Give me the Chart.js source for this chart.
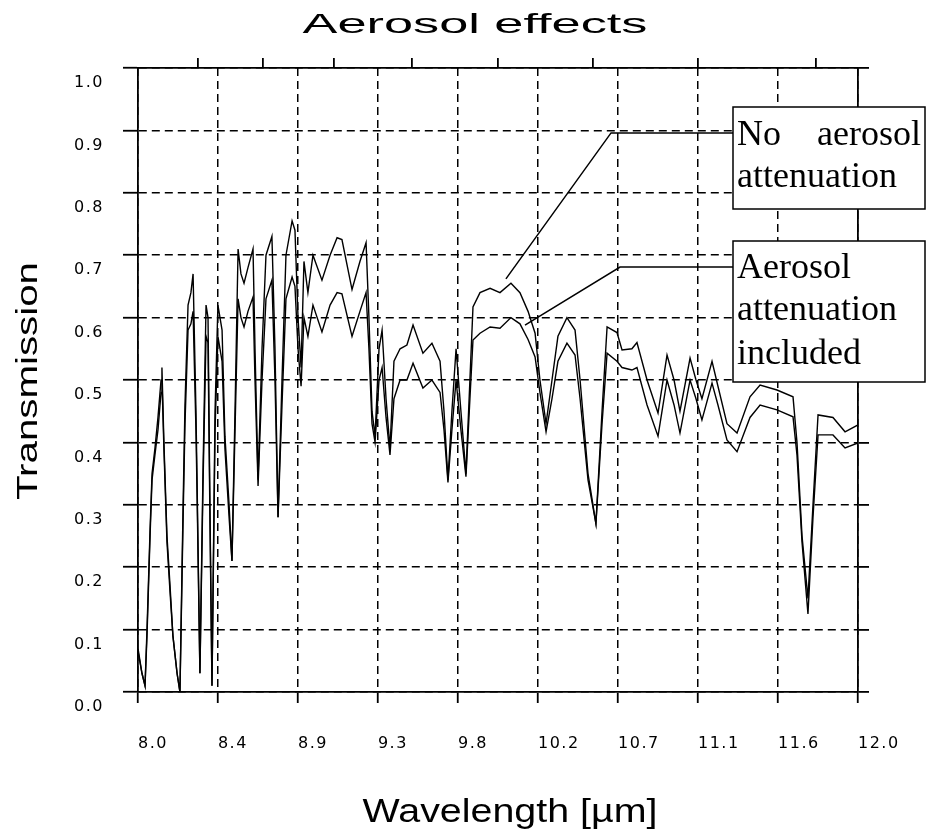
<!DOCTYPE html>
<html>
<head>
<meta charset="utf-8">
<script src="https://cdn.jsdelivr.net/npm/chart.js@4.4.1/dist/chart.umd.min.js"></script>
<style>
  body { margin: 0; background: #fff; }
  canvas { display: block; }
</style>
</head>
<body>
<canvas id="myChart" width="926" height="830"></canvas>
<script>
// wavelength in micrometres, shared by both curves
var wavelength = [8.000, 8.022, 8.039, 8.050, 8.067, 8.078, 8.094, 8.111, 8.128, 8.133, 8.144, 8.161, 8.178, 8.194, 8.217, 8.233, 8.250, 8.261, 8.278, 8.294, 8.306, 8.322, 8.328, 8.344, 8.361, 8.378, 8.389, 8.400, 8.411, 8.428, 8.444, 8.467, 8.483, 8.506, 8.522, 8.539, 8.556, 8.572, 8.589, 8.611, 8.639, 8.650, 8.667, 8.689, 8.711, 8.744, 8.761, 8.778, 8.800, 8.822, 8.856, 8.872, 8.889, 8.906, 8.922, 8.944, 8.972, 9.022, 9.067, 9.106, 9.133, 9.189, 9.233, 9.267, 9.283, 9.300, 9.317, 9.339, 9.356, 9.378, 9.400, 9.422, 9.456, 9.494, 9.528, 9.583, 9.633, 9.678, 9.700, 9.722, 9.744, 9.767, 9.794, 9.822, 9.844, 9.861, 9.900, 9.956, 10.011, 10.072, 10.122, 10.167, 10.206, 10.233, 10.267, 10.300, 10.333, 10.383, 10.428, 10.456, 10.500, 10.544, 10.578, 10.606, 10.661, 10.689, 10.744, 10.772, 10.828, 10.889, 10.939, 10.978, 11.011, 11.067, 11.100, 11.133, 11.189, 11.222, 11.272, 11.328, 11.400, 11.456, 11.550, 11.639, 11.661, 11.689, 11.722, 11.750, 11.778, 11.861, 11.928, 12.000];

var noAerosol = [0.07, 0.03, 0.01, 0.10, 0.26, 0.35, 0.39, 0.44, 0.50, 0.52, 0.40, 0.25, 0.17, 0.09, 0.03, 0.00, 0.29, 0.46, 0.62, 0.64, 0.67, 0.45, 0.34, 0.03, 0.35, 0.62, 0.60, 0.29, 0.01, 0.45, 0.62, 0.58, 0.41, 0.30, 0.21, 0.45, 0.71, 0.67, 0.655, 0.68, 0.71, 0.55, 0.34, 0.55, 0.70, 0.73, 0.55, 0.28, 0.50, 0.70, 0.755, 0.74, 0.60, 0.52, 0.69, 0.64, 0.70, 0.66, 0.70, 0.728, 0.725, 0.645, 0.69, 0.72, 0.60, 0.45, 0.41, 0.55, 0.58, 0.47, 0.39, 0.53, 0.55, 0.556, 0.588, 0.543, 0.559, 0.53, 0.45, 0.34, 0.45, 0.55, 0.45, 0.35, 0.50, 0.617, 0.64, 0.647, 0.64, 0.655, 0.64, 0.61, 0.575, 0.50, 0.43, 0.50, 0.57, 0.60, 0.58, 0.50, 0.35, 0.27, 0.45, 0.585, 0.576, 0.548, 0.55, 0.56, 0.50, 0.447, 0.54, 0.50, 0.45, 0.535, 0.50, 0.47, 0.53, 0.49, 0.43, 0.415, 0.473, 0.492, 0.484, 0.473, 0.40, 0.25, 0.15, 0.30, 0.444, 0.44, 0.417, 0.428];

var withAerosol = [0.065, 0.03, 0.01, 0.09, 0.25, 0.34, 0.38, 0.42, 0.48, 0.50, 0.39, 0.24, 0.16, 0.09, 0.03, 0.00, 0.27, 0.43, 0.58, 0.59, 0.61, 0.42, 0.32, 0.03, 0.33, 0.57, 0.56, 0.27, 0.01, 0.42, 0.57, 0.53, 0.39, 0.28, 0.21, 0.42, 0.63, 0.60, 0.585, 0.61, 0.633, 0.50, 0.33, 0.50, 0.63, 0.66, 0.50, 0.28, 0.46, 0.63, 0.665, 0.65, 0.55, 0.49, 0.60, 0.57, 0.62, 0.577, 0.62, 0.64, 0.638, 0.57, 0.61, 0.64, 0.55, 0.43, 0.40, 0.50, 0.52, 0.44, 0.38, 0.47, 0.50, 0.50, 0.527, 0.487, 0.50, 0.48, 0.42, 0.336, 0.42, 0.50, 0.42, 0.345, 0.47, 0.564, 0.575, 0.585, 0.583, 0.60, 0.59, 0.565, 0.537, 0.48, 0.417, 0.47, 0.53, 0.559, 0.54, 0.47, 0.34, 0.27, 0.43, 0.543, 0.53, 0.52, 0.516, 0.52, 0.46, 0.41, 0.50, 0.46, 0.415, 0.50, 0.47, 0.436, 0.495, 0.46, 0.404, 0.385, 0.44, 0.46, 0.452, 0.441, 0.38, 0.24, 0.125, 0.28, 0.412, 0.412, 0.391, 0.399];

var xTickValues = [8.0, 8.444, 8.889, 9.333, 9.778, 10.222, 10.667, 11.111, 11.556, 12.0];
var xTickLabels = ["8.0", "8.4", "8.9", "9.3", "9.8", "10.2", "10.7", "11.1", "11.6", "12.0"];
// unlabelled ticks on the top edge (wavenumber, cm-1)
var wavenumberTicks = [1200, 1150, 1100, 1050, 1000, 950, 900, 850];

// leader lines from the curves to the boxes, in data units
var leaderNoAerosol = [[10.044, 0.662], [10.628, 0.896], [11.306, 0.896]];
var leaderAerosol = [[10.15, 0.588], [10.678, 0.681], [11.306, 0.681]];

function makePoints(ys) {
  return wavelength.map(function(x, i) { return { x: x, y: ys[i] }; });
}

function stretchText(ctx, text, x, y, font, width, rot) {
  ctx.save();
  ctx.font = font;
  ctx.letterSpacing = "0px";
  ctx.translate(x, y);
  if (rot) ctx.rotate(rot);
  var w = ctx.measureText(text).width;
  ctx.scale(width / w, 1);
  ctx.textAlign = "center";
  ctx.textBaseline = "alphabetic";
  ctx.fillStyle = "#000";
  ctx.fillText(text, 0, 0);
  ctx.restore();
}

var tickSpacing = {
  id: "tickSpacing",
  beforeDraw: function(chart) { chart.ctx.letterSpacing = "1.5px"; },
  afterDatasetsDraw: function(chart) { chart.ctx.letterSpacing = "0px"; }
};

var extras = {
  id: "extras",
  afterDraw: function(chart) {
    var ctx = chart.ctx;
    var sx = chart.scales.x, sy = chart.scales.y;

    stretchText(ctx, "Aerosol effects", 475, 33, "28px 'Liberation Sans'", 345);
    stretchText(ctx, "Wavelength [\u00b5m]", 510, 822, "33px 'Liberation Sans'", 295);
    stretchText(ctx, "Transmission", 37, 381, "30px 'Liberation Sans'", 238, -Math.PI / 2);

    ctx.save();
    ctx.strokeStyle = "#000";
    ctx.lineWidth = 1.5;
    [leaderNoAerosol, leaderAerosol].forEach(function(pts) {
      ctx.beginPath();
      pts.forEach(function(p, i) {
        var px = sx.getPixelForValue(p[0]), py = sy.getPixelForValue(p[1]);
        if (i === 0) ctx.moveTo(px, py); else ctx.lineTo(px, py);
      });
      ctx.stroke();
    });

    // label boxes
    ctx.fillStyle = "#fff";
    ctx.fillRect(733, 107, 192, 102);
    ctx.strokeRect(733, 107, 192, 102);
    ctx.fillRect(733, 241, 192, 141);
    ctx.strokeRect(733, 241, 192, 141);

    ctx.fillStyle = "#000";
    ctx.font = "36px 'Liberation Serif'";
    ctx.textBaseline = "alphabetic";
    ctx.textAlign = "left";
    ctx.fillText("No", 737, 145);
    ctx.fillText("attenuation", 737, 187);
    ctx.fillText("Aerosol", 737, 278);
    ctx.fillText("attenuation", 737, 320);
    ctx.fillText("included", 737, 364);
    ctx.textAlign = "right";
    ctx.fillText("aerosol", 921, 145);
    ctx.restore();
  }
};

var tickFont = { family: "DejaVu Sans", size: 16 };

var ctx = document.getElementById("myChart").getContext("2d");
var myChart = new Chart(ctx, {
  type: "line",
  data: {
    datasets: [
      {
        label: "No aerosol attenuation",
        data: makePoints(noAerosol),
        borderColor: "#000",
        borderWidth: 1.4,
        pointRadius: 0,
        tension: 0
      },
      {
        label: "Aerosol attenuation included",
        data: makePoints(withAerosol),
        borderColor: "#000",
        borderWidth: 1.4,
        pointRadius: 0,
        tension: 0
      }
    ]
  },
  options: {
    responsive: false,
    animation: false,
    layout: { padding: 0 },
    plugins: {
      legend: { display: false },
      title: { display: false },
      tooltip: { enabled: false }
    },
    scales: {
      x: {
        type: "linear",
        position: "bottom",
        min: 8,
        max: 12,
        afterBuildTicks: function(scale) {
          scale.ticks = xTickValues.map(function(v) { return { value: v }; });
        },
        afterFit: function(scale) { scale.height = 138; },
        ticks: {
          callback: function(v, i) { return xTickLabels[i]; },
          align: "start",
          autoSkip: false,
          maxRotation: 0,
          padding: 31,
          color: "#000",
          font: tickFont
        },
        grid: { color: "#000", lineWidth: 1.5, tickLength: 11, tickWidth: 1.8, tickBorderDash: [] },
        border: { color: "#000", width: 1.8, dash: [8, 5], z: 1 }
      },
      x2: {
        type: "linear",
        position: "top",
        min: 8,
        max: 12,
        afterBuildTicks: function(scale) {
          scale.ticks = wavenumberTicks.map(function(n) { return { value: 10000 / n }; });
        },
        afterFit: function(scale) { scale.height = 68; },
        ticks: { display: false },
        grid: { drawOnChartArea: false, color: "#000", lineWidth: 1.8, tickLength: 10 },
        border: { color: "#000", width: 1.8, z: 1 }
      },
      y: {
        min: 0,
        max: 1,
        afterFit: function(scale) { scale.width = 138; },
        ticks: {
          stepSize: 0.1,
          callback: function(v) { return v.toFixed(1); },
          labelOffset: 15,
          padding: 19,
          color: "#000",
          font: tickFont
        },
        grid: { color: "#000", lineWidth: 1.5, tickLength: 15, tickWidth: 1.8, tickBorderDash: [] },
        border: { color: "#000", width: 1.8, dash: [8, 5], z: 1 }
      },
      y2: {
        position: "right",
        min: 0,
        max: 1,
        afterFit: function(scale) { scale.width = 68; },
        ticks: { stepSize: 0.1, display: false },
        grid: { drawOnChartArea: false, color: "#000", lineWidth: 1.8, tickLength: 11 },
        border: { color: "#000", width: 1.8, z: 1 }
      }
    }
  },
  plugins: [tickSpacing, extras]
});
</script>
</body>
</html>
